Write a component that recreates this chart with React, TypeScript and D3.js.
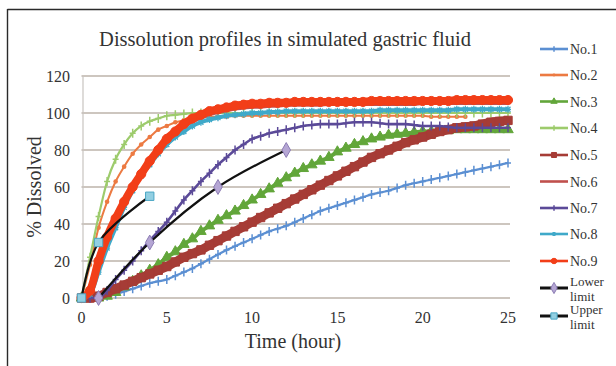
import * as d3 from 'd3';

// sampling times (hour)
const hours = [
  0, 0.5, 1, 1.5, 2, 2.5, 3, 3.5, 4, 4.5, 5, 5.5, 6, 6.5, 7, 7.5, 8, 8.5, 9, 9.5,
  10, 10.5, 11, 11.5, 12, 12.5, 13, 13.5, 14, 14.5, 15, 15.5, 16, 16.5, 17, 17.5,
  18, 18.5, 19, 19.5, 20, 20.5, 21, 21.5, 22, 22.5, 23, 23.5, 24, 24.5, 25,
];

const no1 = [0, 0, 0, 1, 2, 3.5, 5, 6.5, 8, 9, 10, 12, 14, 16, 18.5, 21, 23.5, 26, 28, 30, 32, 34, 36, 37.5, 39, 41, 43, 45, 47, 48.5, 50, 51.5, 53, 54.5, 56, 57, 58, 59.5, 61, 62, 63, 64, 65, 66, 67, 68, 69, 70, 71, 72, 73];
// No.2 stops at 22.5 h
const no2 = [0, 18, 38, 52, 63, 71, 78, 83, 87, 91, 93, 95, 96, 97, 97.5, 98, 98, 98, 98.5, 98.5, 98.5, 98.5, 98.5, 98.5, 98.5, 98.5, 98.5, 98.5, 98.5, 98.5, 98.5, 98.5, 98.5, 98.5, 98.5, 98.5, 98.5, 98.5, 98.5, 98.5, 98.5, 98, 98, 98, 98, 98];
const no3 = [0, 0, 0, 1, 3, 6, 9, 12, 15, 18, 22, 25, 29, 32, 36, 39, 42, 44.5, 47, 50, 53, 56, 59, 62, 65, 67.5, 70, 72, 74, 76, 79, 81, 83, 84.5, 86, 87, 88, 88.5, 89, 89.5, 90, 90, 90.5, 90.5, 91, 91, 91, 91, 91, 91, 91];
const no4 = [0, 22, 44, 63, 75, 83, 89, 93, 95.5, 97, 98.5, 99, 99.5, 100, 100, 100, 100, 100, 100, 100, 100, 100, 100, 100, 100, 100, 100, 100, 100, 100, 100, 100, 100, 100, 100, 100, 100, 100, 100, 100, 100, 100, 100, 100, 100, 100, 100, 100, 100, 100, 100];
const no5 = [0, 0, 1, 3, 5, 7, 9, 11, 13, 15, 17, 19.5, 22, 24, 26, 28.5, 31, 33.5, 36, 38.5, 41, 43.5, 46, 48.5, 51, 53.5, 56, 58.5, 61, 63.5, 66, 68.5, 71, 73.5, 76, 78, 80, 82, 84, 85.5, 87, 88.5, 90, 91, 92, 92.5, 93, 94, 95, 95.5, 96];
const no6 = [0, 3, 18, 31, 41, 50, 58, 65, 72, 78, 83, 88, 92, 95, 97, 99, 100, 101, 102, 102.5, 103, 103, 103.5, 103.5, 104, 104, 104, 104, 104, 104.5, 104.5, 104.5, 104.5, 104.5, 104.5, 104.5, 104.5, 104.5, 104.5, 104.5, 105, 105, 105, 105, 105, 105, 105, 105, 105, 105, 105];
const no7 = [0, 0, 0, 4, 10, 15, 20, 25.5, 31, 36, 41, 47, 53, 58, 63, 67.5, 72, 76, 80, 83, 86, 87.5, 89, 90, 91, 92, 93, 93.5, 94, 94, 94, 94.5, 95, 95, 95, 94.5, 94, 94, 94, 93.5, 93, 93, 93, 92.5, 92, 92, 92, 92, 92, 92, 92];
const no8 = [0, 2, 14, 27, 38, 49, 58, 66, 72, 78, 83, 87, 90, 93, 95, 96.5, 97.5, 98.5, 99, 99.5, 100, 100, 100.5, 100.5, 101, 101, 101, 101, 101, 101, 101, 101, 101, 101, 101, 101.5, 101.5, 101.5, 101.5, 101.5, 101.5, 101.5, 101.5, 101.5, 102, 102, 102, 102, 102, 102, 102];
const no9 = [0, 4, 20, 33, 43, 52, 60, 67, 74, 80, 86, 90, 94, 97, 99, 101, 102, 103, 104, 104.5, 105, 105, 105.5, 105.5, 105.5, 106, 106, 106, 106, 106, 106, 106, 106, 106, 106.5, 106.5, 106.5, 106.5, 106.5, 106.5, 106.5, 106.5, 106.5, 106.5, 107, 107, 107, 107, 107, 107, 107];

const lowerHours = [1, 4, 8, 12];
const lowerValues = [0, 30, 60, 80];
const upperHours = [0, 1, 4];
const upperValues = [0, 30, 55];

const xTicks = [0, 5, 10, 15, 20, 25];
const yTicks = [0, 20, 40, 60, 80, 100, 120];

type Marker = 'plus' | 'star' | 'circle' | 'smallCircle' | 'square' | 'triangle' | 'diamond' | 'none';

interface Series {
  name: string[];
  xs: number[];
  ys: number[];
  color: string;
  marker: Marker;
  fill?: string;
  stroke?: string;
  lineWidth: number;
  smooth?: boolean;
}

const series: Series[] = [
  { name: ['No.1'], xs: hours, ys: no1, color: '#5b8fd2', marker: 'plus', lineWidth: 2.2 },
  { name: ['No.2'], xs: hours.slice(0, no2.length), ys: no2, color: '#ec7a42', marker: 'smallCircle', lineWidth: 2 },
  { name: ['No.3'], xs: hours, ys: no3, color: '#62a63a', marker: 'triangle', lineWidth: 4 },
  { name: ['No.4'], xs: hours, ys: no4, color: '#9dcb6c', marker: 'plus', lineWidth: 2.2 },
  { name: ['No.5'], xs: hours, ys: no5, color: '#a63c36', fill: '#a63c36', marker: 'square', lineWidth: 9 },
  { name: ['No.6'], xs: hours, ys: no6, color: '#c0504d', marker: 'none', lineWidth: 2.5 },
  { name: ['No.7'], xs: hours, ys: no7, color: '#5b4a98', marker: 'plus', lineWidth: 2.6 },
  { name: ['No.8'], xs: hours, ys: no8, color: '#3fa9c9', marker: 'star', lineWidth: 4 },
  { name: ['No.9'], xs: hours, ys: no9, color: '#f23e18', fill: '#f23e18', marker: 'circle', lineWidth: 8 },
  { name: ['Lower', 'limit'], xs: lowerHours, ys: lowerValues, color: '#111', fill: '#b5a6d4', stroke: '#8c7cb4', marker: 'diamond', lineWidth: 2.2, smooth: true },
  { name: ['Upper', 'limit'], xs: upperHours, ys: upperValues, color: '#111', fill: '#92cfe2', stroke: '#4aa6c4', marker: 'square', lineWidth: 2.2, smooth: true },
];

const W = 616;
const H = 366;
const FONT = '"Liberation Serif", "Times New Roman", serif';

const x = d3.scaleLinear().domain([0, 25]).range([81.5, 508]);
const y = d3.scaleLinear().domain([0, 120]).range([298, 76]);

const MarkerMark = ({ m, cx, cy, s, k }: { m: Marker; cx: number; cy: number; s: Series; k: number }) => {
  const t = `translate(${cx},${cy}) scale(${k})`;
  if (m === 'plus') {
    return <path transform={t} d="M-3,0H3M0,-4.5V4.5" stroke={s.color} strokeWidth={1.5 / k} fill="none" />;
  }
  if (m === 'star') {
    return <path transform={t} d="M-3,0H3M0,-3.5V3.5M-2.5,-2.5L2.5,2.5M-2.5,2.5L2.5,-2.5" stroke={s.color} strokeWidth={1.3 / k} fill="none" />;
  }
  if (m === 'smallCircle') {
    return <circle transform={t} r={2.3} fill={s.color} />;
  }
  const sym =
    m === 'circle' ? d3.symbolCircle :
    m === 'square' ? d3.symbolSquare :
    m === 'triangle' ? d3.symbolTriangle : d3.symbolDiamond;
  const size = m === 'circle' ? 66 : m === 'square' ? 70 : m === 'triangle' ? 48 : 64;
  const d = d3.symbol().type(sym).size(size)() || '';
  const fill = s.fill || s.color;
  return <path transform={t} d={d} fill={fill} stroke={s.stroke || fill} strokeWidth={1 / k} />;
};

export default function App() {
  const lineSmooth = d3.line<[number, number]>().x((d) => x(d[0])).y((d) => y(d[1])).curve(d3.curveCatmullRom);
  const lineMono = d3.line<[number, number]>().x((d) => x(d[0])).y((d) => y(d[1])).curve(d3.curveMonotoneX);

  const legendX0 = 540;
  const legendX1 = 568;
  const legendYs = [49, 75, 101.5, 128, 155, 181.5, 208, 234, 261, 288, 316];

  return (
    <svg
      width={W}
      height={H}
      style={{ position: 'absolute', left: 0, top: 0, background: '#fff' }}
      fontFamily={FONT}
    >
      <rect width={W} height={H} fill="#fff" />
      {/* outer frame, cut by the picture edge */}
      <line x1={7.5} x2={W} y1={9.5} y2={9.5} stroke="#2a2a2a" strokeWidth={1.4} />
      <line x1={7.5} x2={7.5} y1={9} y2={H} stroke="#2a2a2a" strokeWidth={1.4} />

      <text x={285} y={46} textAnchor="middle" fontSize={20.5} fill="#333">
        Dissolution profiles in simulated gastric fluid
      </text>

      {/* grid */}
      {yTicks.map((v) => (
        <line key={v} x1={x(0)} x2={x(25) + 2} y1={y(v)} y2={y(v)} stroke="#bdb3aa" strokeWidth={1.6} />
      ))}
      <line x1={x(0) + 1.5} x2={x(0) + 1.5} y1={y(120)} y2={y(0)} stroke="#c8c4c0" strokeWidth={1.2} />

      {yTicks.map((v) => (
        <text key={v} x={70} y={y(v) + 5.5} textAnchor="end" fontSize={16} fill="#333">
          {v}
        </text>
      ))}
      {xTicks.map((v) => (
        <text key={v} x={x(v)} y={323} textAnchor="middle" fontSize={16} fill="#333">
          {v}
        </text>
      ))}

      <text transform="translate(41,187) rotate(-90)" textAnchor="middle" fontSize={20} fill="#333">
        % Dissolved
      </text>
      <text x={293} y={348} textAnchor="middle" fontSize={20} fill="#333">
        Time (hour)
      </text>

      {/* series */}
      {series.map((s, i) => {
        const pts = s.xs.map((h, j) => [h, s.ys[j]] as [number, number]);
        const d = (s.smooth ? lineSmooth : lineMono)(pts) || '';
        return (
          <g key={i}>
            <path d={d} fill="none" stroke={s.color} strokeWidth={s.lineWidth} strokeLinejoin="round" />
            {s.marker !== 'none' &&
              pts.map((p, j) => (
                <MarkerMark key={j} m={s.marker} cx={x(p[0])} cy={y(p[1])} s={s} k={1} />
              ))}
          </g>
        );
      })}

      {/* legend */}
      {series.map((s, i) => {
        const ly = legendYs[i];
        return (
          <g key={i}>
            <line x1={legendX0} x2={legendX1} y1={ly} y2={ly} stroke={s.color} strokeWidth={s.smooth ? 3 : 2.6} />
            {s.marker !== 'none' && (
              <MarkerMark m={s.marker} cx={(legendX0 + legendX1) / 2} cy={ly} s={s} k={s.smooth ? 0.75 : 0.6} />
            )}
            {s.name.length === 1 ? (
              <text x={570} y={ly + 5} fontSize={14} fill="#333">
                {s.name[0]}
              </text>
            ) : (
              <text x={570} y={ly - 2} fontSize={13} fill="#333">
                <tspan x={570} dy={0}>{s.name[0]}</tspan>
                <tspan x={570} dy={14.5}>{s.name[1]}</tspan>
              </text>
            )}
          </g>
        );
      })}
    </svg>
  );
}
